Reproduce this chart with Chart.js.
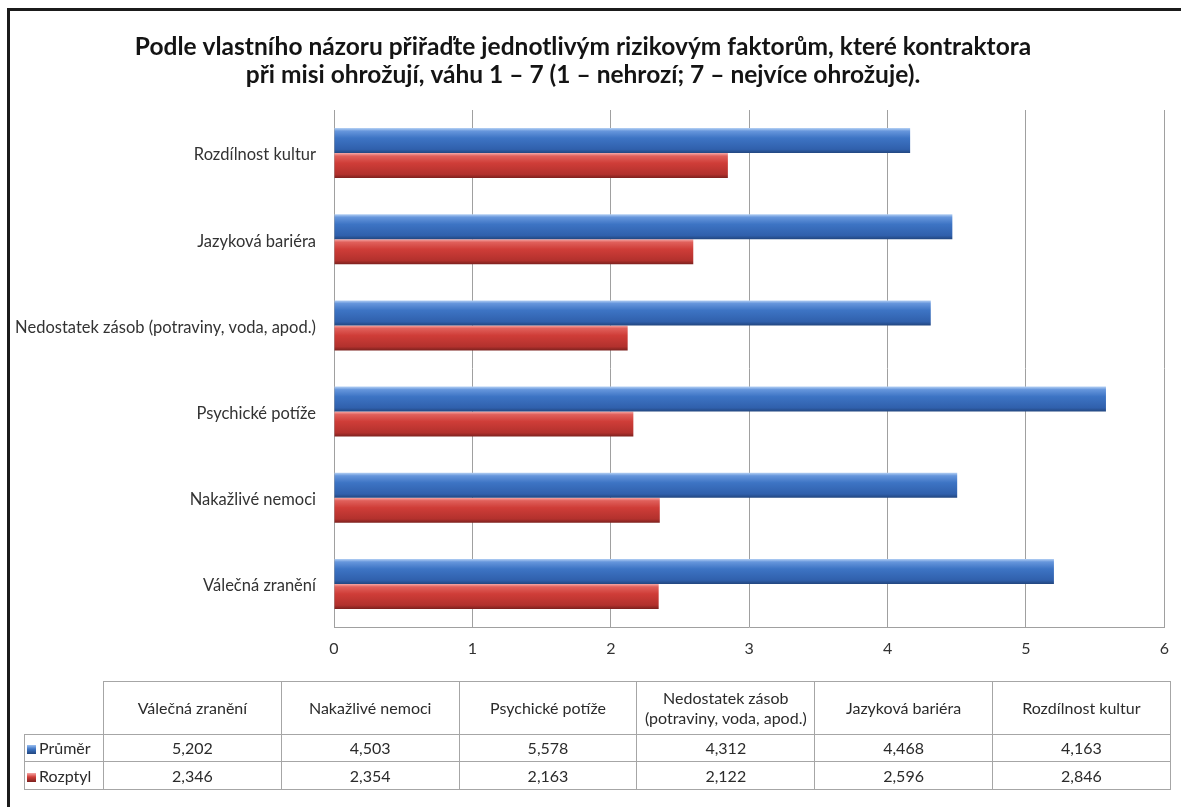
<!DOCTYPE html>
<html>
<head>
<meta charset="utf-8">
<script src="https://cdn.jsdelivr.net/npm/chart.js@4.4.1/dist/chart.umd.min.js"></script>
<style>
html,body{margin:0;padding:0;background:#fff;width:1181px;height:807px;overflow:hidden;font-family:Lato,"Open Sans",sans-serif;}
#frame{position:absolute;left:7px;top:8px;width:1200px;height:820px;border-top:3px solid #1b1b1b;border-left:3px solid #1b1b1b;box-sizing:border-box;}
#wrap{position:absolute;left:0;top:0;width:1181px;height:807px;}
#tbl{position:absolute;left:24px;top:681px;border-collapse:collapse;font-size:16px;color:#2b2b2b;table-layout:fixed;}
#tbl td{border:1px solid #a6a6a6;text-align:center;padding:0;line-height:20px;}
#tbl td.blank{border:none;}
#tbl td.name{text-align:left;padding-left:2px;white-space:nowrap;}
.key{display:inline-block;width:9px;height:9px;margin-right:3px;vertical-align:0px;}
</style>
</head>
<body>
<div id="frame"></div>
<div id="wrap"><canvas id="c" width="1181" height="807"></canvas></div>
<table id="tbl"></table>
<script>
// ---- data ----
const categories = ['Válečná zranění', 'Nakažlivé nemoci', 'Psychické potíže', 'Nedostatek zásob (potraviny, voda, apod.)', 'Jazyková bariéra', 'Rozdílnost kultur'];
const prumer = [5.202, 4.503, 5.578, 4.312, 4.468, 4.163];
const rozptyl = [2.346, 2.354, 2.163, 2.122, 2.596, 2.846];
const seriesNames = ['Průměr', 'Rozptyl'];
const xTickValues = [0, 1, 2, 3, 4, 5, 6];
const titleLines = ['Podle vlastního názoru přiřaďte jednotlivým rizikovým faktorům, které kontraktora', 'při misi ohrožují, váhu 1 – 7 (1 – nehrozí; 7 – nejvíce ohrožuje).'];

// ---- styles ----
const CAT_PCT = 0.58, BAR_PCT = 1.0;
const blueStops = [[0,'#b4d0f4'],[0.12,'#6696dc'],[0.4,'#3d74c4'],[0.85,'#3060ac'],[1,'#22467f']];
const redStops  = [[0,'#f6a8a6'],[0.12,'#e0605b'],[0.4,'#cf3d38'],[0.85,'#b2312d'],[1,'#7c211e']];
const fmt = v => v.toFixed(3).replace('.', ',');

// chart order: top-to-bottom is the reverse of the table order
const chartLabels = categories.slice().reverse();
const chartPrumer = prumer.slice().reverse();
const chartRozptyl = rozptyl.slice().reverse();

function barGradient(stops, fallback) {
  return function (c) {
    const chart = c.chart;
    const ys = chart.scales && chart.scales.y;
    if (!chart.chartArea || !ys || c.type !== 'data') return fallback;
    const center = ys.getPixelForValue(c.dataIndex);
    const band = ys.height / chartLabels.length;
    const thick = band * CAT_PCT * BAR_PCT / 2;
    const top = c.datasetIndex === 0 ? center - thick : center;
    const g = chart.ctx.createLinearGradient(0, top, 0, top + thick);
    stops.forEach(s => g.addColorStop(s[0], s[1]));
    return g;
  };
}

const FONT = 'Lato, "Open Sans", sans-serif';
Chart.defaults.font.family = FONT;

new Chart(document.getElementById('c'), {
  type: 'bar',
  data: {
    labels: chartLabels,
    datasets: [
      { label: seriesNames[0], data: chartPrumer, backgroundColor: barGradient(blueStops, '#3d74c4'), categoryPercentage: CAT_PCT, barPercentage: BAR_PCT, borderWidth: 0 },
      { label: seriesNames[1], data: chartRozptyl, backgroundColor: barGradient(redStops, '#cf3d38'), categoryPercentage: CAT_PCT, barPercentage: BAR_PCT, borderWidth: 0 }
    ]
  },
  options: {
    indexAxis: 'y',
    responsive: false,
    animation: false,
    devicePixelRatio: 1,
    layout: { padding: { top: 33, right: 15, left: 0, bottom: 0 } },
    plugins: {
      legend: { display: false },
      tooltip: { enabled: false },
      title: {
        display: true,
        text: titleLines,
        color: '#141414',
        font: { family: FONT, size: 24.5, weight: 'bold', lineHeight: 28 / 24.5 },
        padding: { top: 0, bottom: 21 }
      }
    },
    scales: {
      x: {
        type: 'linear',
        min: 0, max: 6,
        afterBuildTicks: s => { s.ticks = xTickValues.map(v => ({ value: v })); },
        ticks: { color: '#333', font: { size: 16 }, padding: 12, callback: v => String(v) },
        grid: { color: '#a0a0a0', drawTicks: false, lineWidth: 1 },
        border: { display: true, color: '#a0a0a0' },
        afterFit: s => { s.height = 180; }
      },
      y: {
        type: 'category',
        grid: { display: false, drawTicks: false },
        border: { display: true, color: '#a0a0a0' },
        ticks: { color: '#333', font: { size: 16.5 }, padding: 18, labelOffset: 2 },
        afterFit: s => { s.width = 334; }
      }
    }
  }
});

// ---- data table under the chart ----
const tbl = document.getElementById('tbl');
const colW = 177.8;
let html = '<colgroup><col style="width:79px">' + categories.map(() => '<col style="width:' + colW + 'px">').join('') + '</colgroup>';
html += '<tr style="height:53px"><td class="blank"></td>' + categories.map(n => '<td>' + n.replace(' (', '<br>(') + '</td>').join('') + '</tr>';
const keyBg = [
  'linear-gradient(#9cc0f0,#3d74c4 45%,#22467f)',
  'linear-gradient(#f6a8a6,#cf3d38 45%,#7c211e)'
];
[prumer, rozptyl].forEach((arr, i) => {
  html += '<tr style="height:' + (i === 0 ? 27 : 28) + 'px"><td class="name"><span class="key" style="background:' + keyBg[i] + '"></span>' + seriesNames[i] + '</td>' + arr.map(v => '<td>' + fmt(v) + '</td>').join('') + '</tr>';
});
tbl.innerHTML = html;
</script>
</body>
</html>
